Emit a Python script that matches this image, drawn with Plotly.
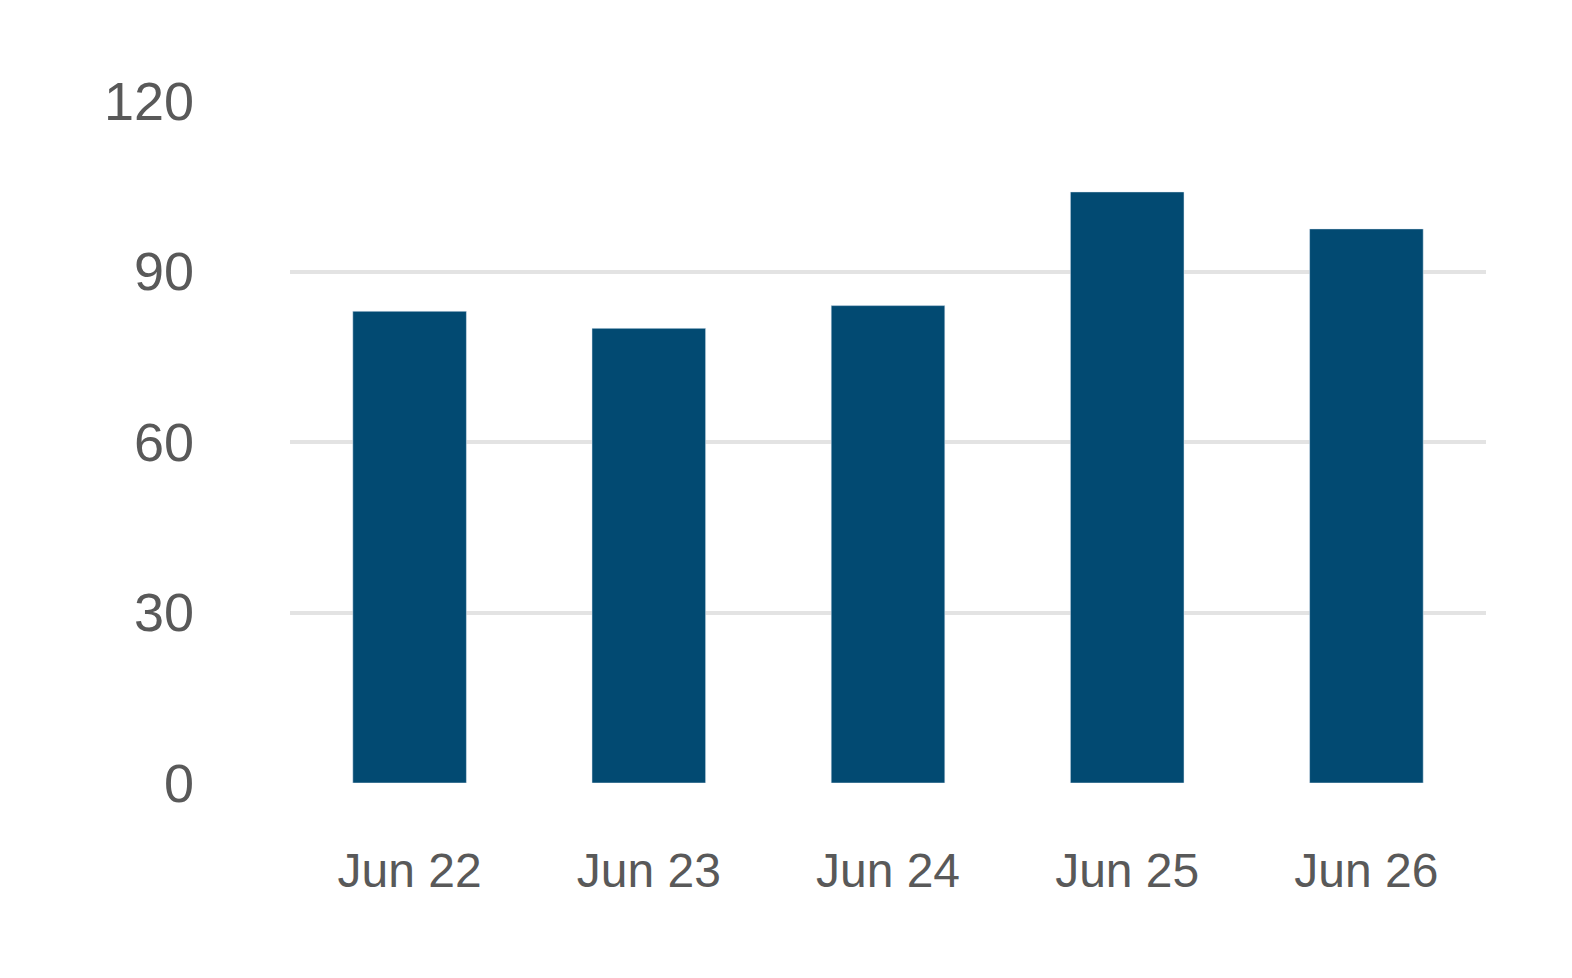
import plotly.graph_objects as go

days = ["Jun 22", "Jun 23", "Jun 24", "Jun 25", "Jun 26"]
values = [83, 80, 84, 104, 97.5]
y_ticks = [0, 30, 60, 90, 120]

fig = go.Figure(go.Bar(x=days, y=values, marker_color="#024A72", width=0.475))

fig.update_layout(
    width=1572, height=978,
    margin=dict(l=282, r=94, t=93, b=203),
    plot_bgcolor="white", paper_bgcolor="white",
    font=dict(family="Liberation Sans, Arial, sans-serif", color="#595959"),
    showlegend=False,
)
fig.update_yaxes(range=[0, 120], tickvals=y_ticks, showgrid=True, gridcolor="#E3E3E3",
                 gridwidth=4, zeroline=False, tickfont=dict(size=54),
                 ticklabelstandoff=95)
fig.update_xaxes(showgrid=False, showline=False, tickfont=dict(size=48),
                 ticklabelstandoff=55)

fig.write_html("out.html")
